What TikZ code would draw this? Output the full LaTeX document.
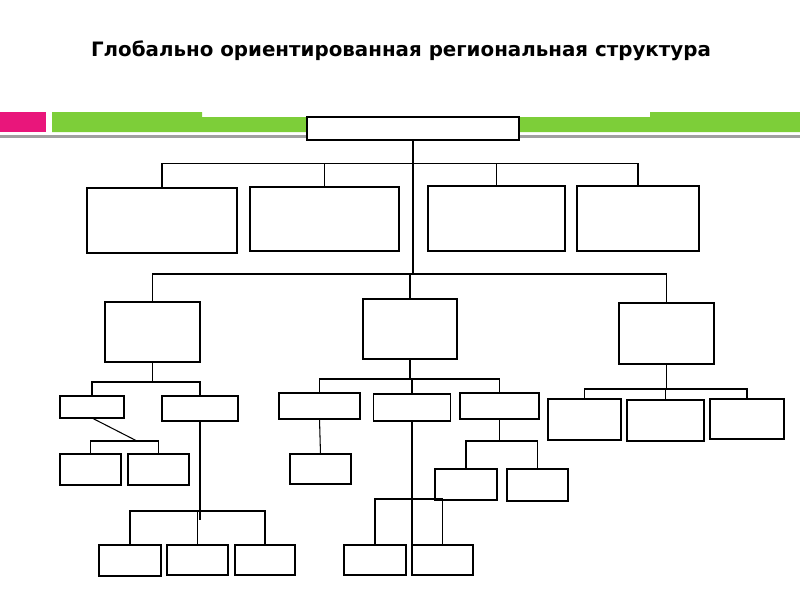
\documentclass[tikz,border=0pt]{standalone}
\usepackage{fontspec}
\setmainfont{DejaVu Sans}
\usetikzlibrary{calc}
\definecolor{bandpink}{RGB}{233,22,123}
\definecolor{bandgreen}{RGB}{125,206,57}
\definecolor{bandgrey}{RGB}{160,160,160}
\tikzstyle{unit}=[rectangle,draw,fill=white,line width=0.8pt,inner sep=0pt,outer sep=0pt]
\tikzstyle{link}=[draw,line width=0.75pt]
\tikzstyle{trunk}=[draw,line width=1.4pt]
\tikzstyle{heading}=[font=\bfseries\fontsize{14.1}{16}\selectfont]

\begin{document}
\begin{tikzpicture}[x=0.025cm,y=-0.025cm]
    \useasboundingbox (0,0) rectangle (800,600);
    % Title
    \node[heading,anchor=base] (title) at (401,56) {Глобально ориентированная региональная структура};

    % Draw the coloured band under the title
    \fill[bandpink] (0,112) rectangle (46,132);
    \fill[bandgreen] (52,112) rectangle (202,132) (202,117) rectangle (650,132) (650,112) rectangle (800,132);
    \fill[bandgrey] (0,135) rectangle (800,137.5);

    % First we draw the units (position/width/height/name)
    \foreach \pos/\w/\h/\name in {{(413,128.5)/212/23/top},
        {(162,220.5)/150/65/A},{(324.5,219)/149/64/B},{(496.5,218.5)/137/65/C},{(638,218.5)/122/65/D},
        {(152.5,332)/95/60/L},{(410,329)/94/60/M},{(666.5,333.5)/95/61/R},
        {(92,407)/64/22/L1},{(200,408.5)/76/25/L2},{(90.5,469.5)/61/31/L1a},{(158.5,469.5)/61/31/L1b},
        {(130,560.5)/62/31/B1},{(197.5,560)/61/30/B2},{(265,560)/60/30/B3},
        {(319.5,406)/81/26/M1},{(412,407.5)/77/27/M2},{(499.5,406)/79/26/M3},
        {(320.5,469)/61/30/M1a},{(375,560)/62/30/MB1},{(442.5,560)/61/30/MB2},
        {(466,484.5)/62/31/M3a},{(537.5,485)/61/32/M3b},
        {(584.5,419.5)/73/41/R1},{(665.5,420.5)/77/41/R2},{(747,419)/74/40/R3}}
        \node[unit,minimum width=\w*0.025cm,minimum height=\h*0.025cm] (\name) at \pos {};

    % Bus points
    \coordinate (bus1) at (413,163.5);
    \coordinate (bus2) at (413,274);
    \coordinate (trunkstart) at (413,229);
    \coordinate (busL) at (152.5,382);
    \coordinate (busL1) at (137,441);
    \coordinate (busL2) at (200,511);
    \coordinate (stubL2) at (200,520);
    \coordinate (busM) at (410,379);
    \coordinate (busM2) at (412,499);
    \coordinate (busM3) at (499.5,441);
    \coordinate (busR) at (666.5,389);

    % Connect units with their buses
    \foreach \child/\bus in {A/bus1,B/bus1,C/bus1,D/bus1,L/bus2,M/bus2,R/bus2,
        L1/busL,L2/busL,L1a/busL1,L1b/busL1,B1/busL2,B2/busL2,B3/busL2,
        M1/busM,M2/busM,M3/busM,MB1/busM2,MB2/busM2,M3a/busM3,M3b/busM3,
        R1/busR,R2/busR,R3/busR}
        \path[link] (\child.north) |- (\bus);

    \foreach \parent/\bus in {top/bus2,L/busL,L1/busL1,L2/stubL2,M/busM,M1/M1a.north,M3/busM3,R/busR}
        \path[link] (\parent.south) -- (\bus);
    \path[link] (M2.south) -- (MB2.north west);

    % heavier strokes
    \path[trunk] (B.north |- bus1) -- (bus1);
    \path[trunk] (trunkstart) -- (bus2);
\end{tikzpicture}
\end{document}
